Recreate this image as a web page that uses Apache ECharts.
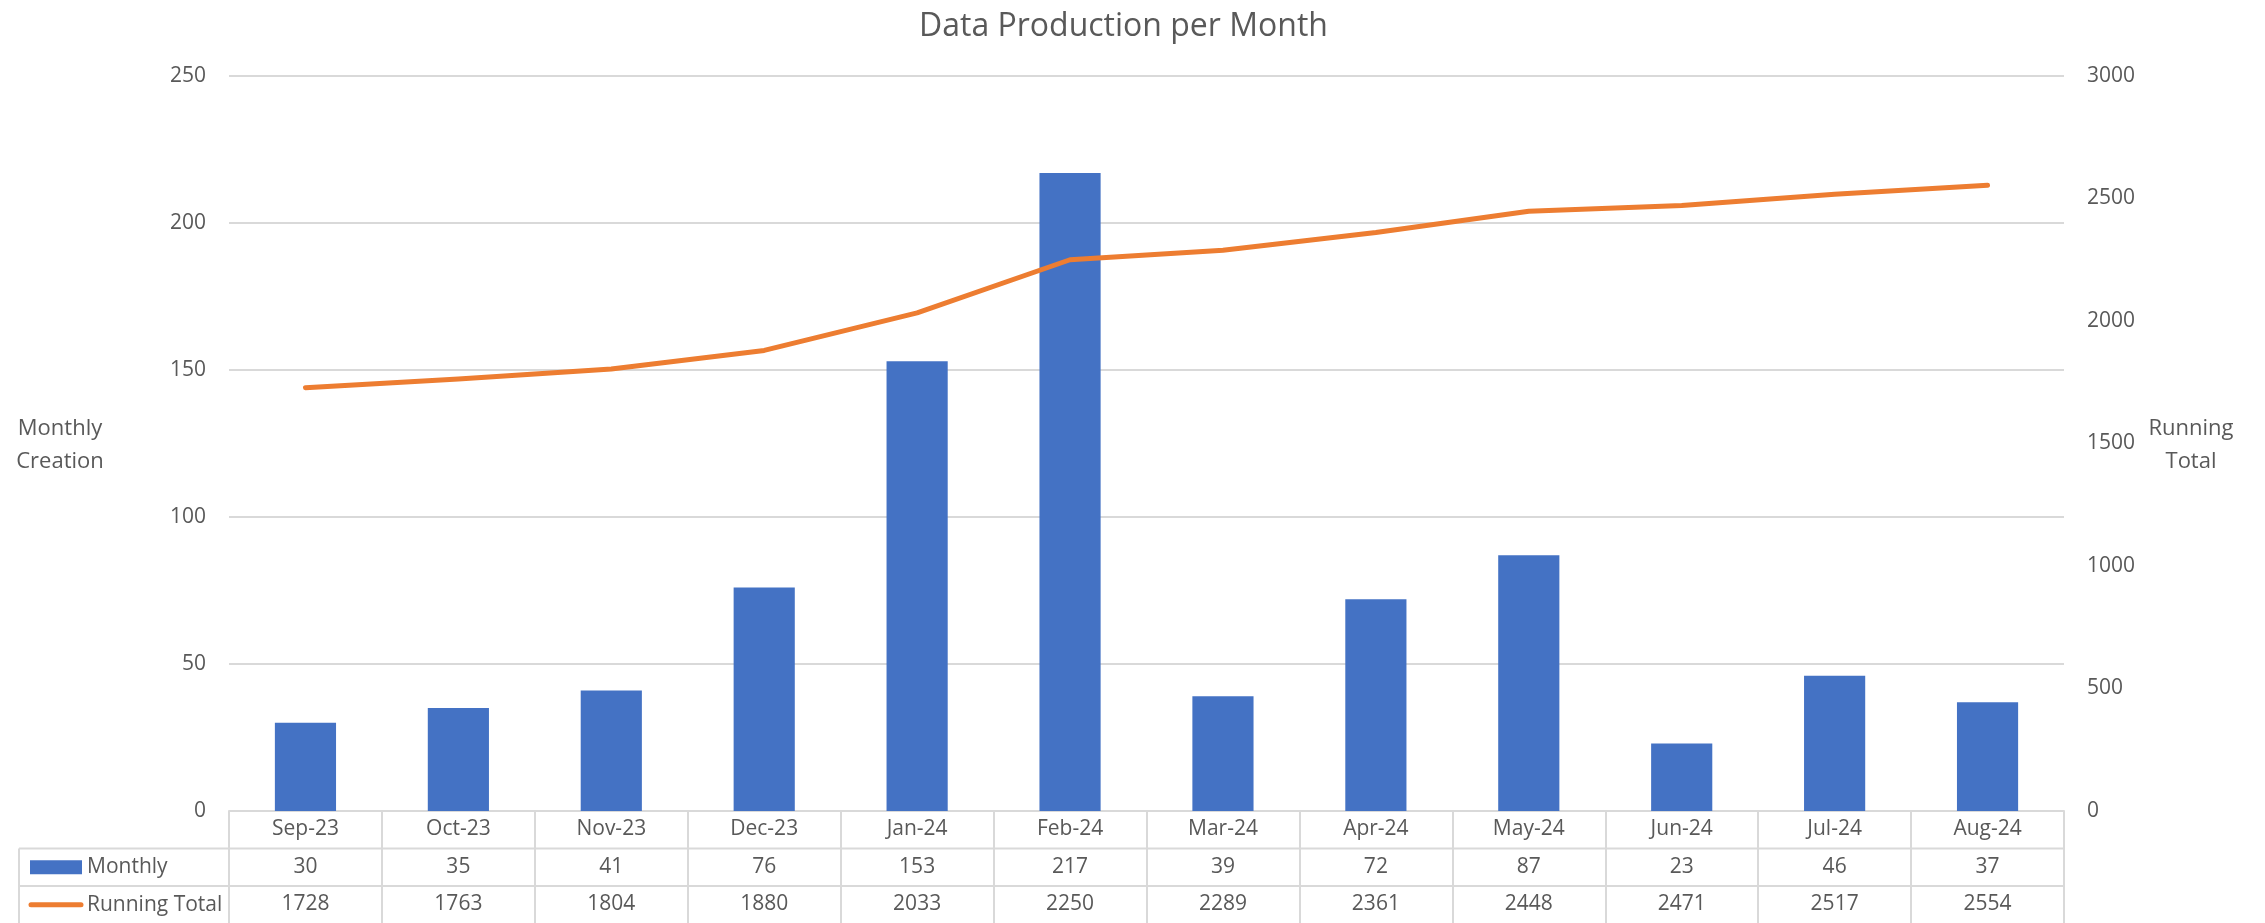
<!DOCTYPE html>
<html>
<head>
<meta charset="utf-8">
<script src="https://cdn.jsdelivr.net/npm/echarts@6/dist/echarts.min.js"></script>
<style>
  html, body { margin: 0; padding: 0; background: #fff; }
  #chart { width: 2265px; height: 923px; }
</style>
</head>
<body>
<div id="chart"></div>
<script>
// data
const months = ['Sep-23', 'Oct-23', 'Nov-23', 'Dec-23', 'Jan-24', 'Feb-24', 'Mar-24', 'Apr-24', 'May-24', 'Jun-24', 'Jul-24', 'Aug-24'];
const monthly = [30, 35, 41, 76, 153, 217, 39, 72, 87, 23, 46, 37];
const runningTotal = [1728, 1763, 1804, 1880, 2033, 2250, 2289, 2361, 2448, 2471, 2517, 2554];
const leftTicks = [0, 50, 100, 150, 200, 250];
const rightTicks = [0, 500, 1000, 1500, 2000, 2500, 3000];

const FONT = '"Open Sans", "Noto Sans", sans-serif';
const TEXT = '#595959';
const LINE = '#d9d9d9';
const BLUE = '#4472C4';
const ORANGE = '#ED7D31';

// layout (px)
const plotLeft = 229, plotRight = 2064, plotTop = 76, axisY = 811;
const rowH = 37.5;
const tableLeft = 19;

const chart = echarts.init(document.getElementById('chart'));

// table rows are drawn as extra category axes below the plot
const rowAxis = (vals, off) => ({
    type: 'category',
    position: 'bottom',
    offset: off,
    data: vals.map(String),
    axisLine: { show: false },
    axisTick: { show: false },
    axisLabel: { interval: 0, margin: 8, fontSize: 21, lineHeight: 21, color: TEXT, fontFamily: FONT }
});

chart.setOption({
    animation: false,
    textStyle: { fontFamily: FONT },
    title: {
        text: 'Data Production per Month',
        left: 914,
        top: 6,
        textStyle: { fontSize: 32, fontWeight: 'normal', color: TEXT, fontFamily: FONT }
    },
    grid: {
        left: plotLeft,
        right: 2265 - plotRight,
        top: plotTop,
        bottom: 923 - axisY
    },
    xAxis: [
        {
            type: 'category',
            data: months,
            axisLine: { show: true, lineStyle: { color: LINE, width: 2 } },
            axisTick: { show: true, interval: 0, length: 113, lineStyle: { color: LINE, width: 2 } },
            axisLabel: { interval: 0, margin: 8, fontSize: 21, lineHeight: 21, color: TEXT, fontFamily: FONT }
        },
        rowAxis(monthly, rowH),
        rowAxis(runningTotal, rowH * 2)
    ],
    yAxis: [
        {
            type: 'value',
            min: leftTicks[0],
            max: leftTicks[leftTicks.length - 1],
            interval: leftTicks[1] - leftTicks[0],
            axisLine: { show: false },
            axisTick: { show: false },
            splitLine: { lineStyle: { color: LINE, width: 2 } },
            axisLabel: { margin: 23, fontSize: 21, color: TEXT, fontFamily: FONT }
        },
        {
            type: 'value',
            position: 'right',
            min: rightTicks[0],
            max: rightTicks[rightTicks.length - 1],
            interval: rightTicks[1] - rightTicks[0],
            axisLine: { show: false },
            axisTick: { show: false },
            splitLine: { show: false },
            axisLabel: { margin: 23, fontSize: 21, color: TEXT, fontFamily: FONT, formatter: (v) => String(v) }
        }
    ],
    series: [
        {
            name: 'Monthly',
            type: 'bar',
            data: monthly,
            barWidth: '40%',
            itemStyle: { color: BLUE }
        },
        {
            name: 'Running Total',
            type: 'line',
            yAxisIndex: 1,
            data: runningTotal,
            symbol: 'none',
            lineStyle: { color: ORANGE, width: 5, cap: 'round', join: 'round' }
        }
    ],
    graphic: [
        // axis titles
        {
            type: 'text',
            style: { text: 'Monthly\nCreation', x: 60, y: 445, align: 'center', verticalAlign: 'middle',
                fontSize: 22, lineHeight: 33, fill: TEXT, fontFamily: FONT }
        },
        {
            type: 'text',
            style: { text: 'Running\nTotal', x: 2191, y: 445, align: 'center', verticalAlign: 'middle',
                fontSize: 22, lineHeight: 33, fill: TEXT, fontFamily: FONT }
        },
        // data table borders outside the plot width
        {
            type: 'line',
            shape: { x1: tableLeft, y1: axisY + rowH, x2: plotRight, y2: axisY + rowH },
            style: { stroke: LINE, lineWidth: 2 }
        },
        {
            type: 'line',
            shape: { x1: tableLeft, y1: axisY + rowH * 2, x2: plotRight, y2: axisY + rowH * 2 },
            style: { stroke: LINE, lineWidth: 2 }
        },
        {
            type: 'line',
            shape: { x1: tableLeft, y1: axisY + rowH, x2: tableLeft, y2: 923 },
            style: { stroke: LINE, lineWidth: 2 }
        },
        // legend keys
        {
            type: 'rect',
            shape: { x: 30, y: axisY + rowH * 1.5 - 7, width: 52, height: 14 },
            style: { fill: BLUE }
        },
        {
            type: 'line',
            shape: { x1: 31, y1: axisY + rowH * 2.5, x2: 81, y2: axisY + rowH * 2.5 },
            style: { stroke: ORANGE, lineWidth: 5, lineCap: 'round' }
        },
        {
            type: 'text',
            style: { text: 'Monthly', x: 87, y: axisY + rowH * 1.5, verticalAlign: 'middle',
                fontSize: 21, fill: TEXT, fontFamily: FONT }
        },
        {
            type: 'text',
            style: { text: 'Running Total', x: 87, y: axisY + rowH * 2.5, verticalAlign: 'middle',
                fontSize: 21, fill: TEXT, fontFamily: FONT }
        }
    ]
});

window.addEventListener('resize', function() {
    chart.resize();
});
</script>
</body>
</html>
